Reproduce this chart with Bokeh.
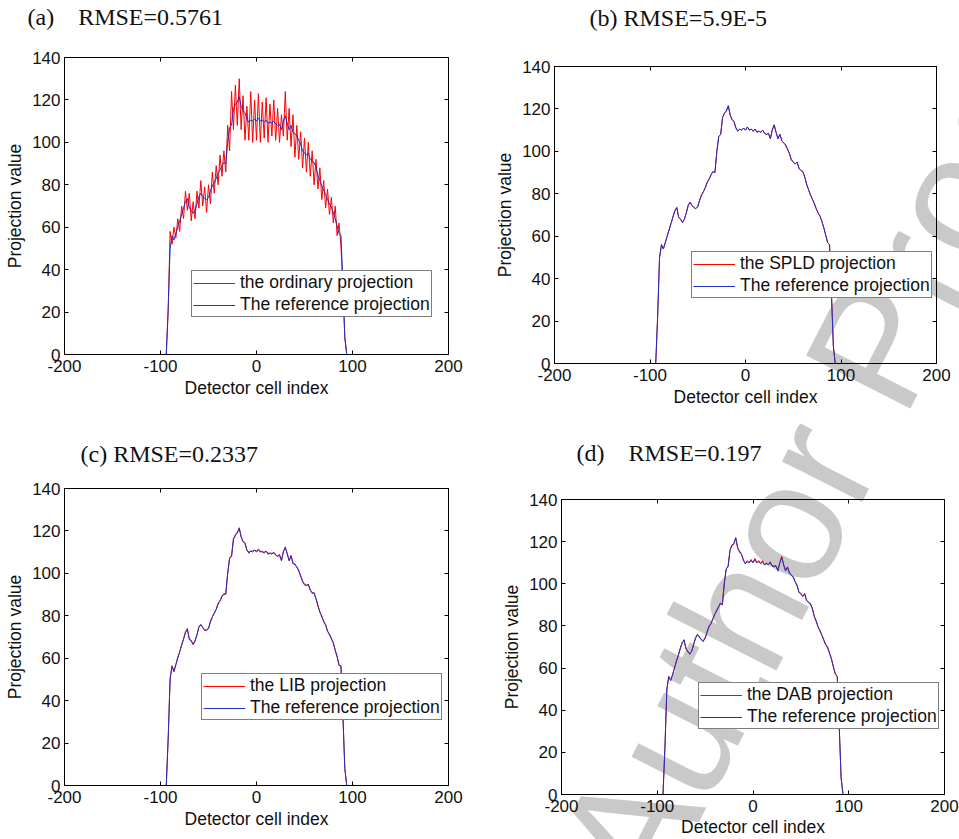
from bokeh.plotting import figure
from bokeh.models import FixedTicker, LinearAxis, Range1d, Legend, LegendItem, Label, Plot
from bokeh.core.properties import value
from bokeh.layouts import row, column
from bokeh.embed import file_html
from bokeh.resources import INLINE

# Detector cells sampled every 2 cells across the object; the flat zero
# tails run out to the edge cells at +/-183.
cell_index = list(range(-94, 95, 2))
edge_cells = [-183, 183]

reference_proj = [
    0, 22, 50, 56, 54, 57, 60, 63, 66, 69,
    72, 73.5, 69, 68, 66.5, 68, 71, 74.5, 76, 74.5,
    73.5, 73, 74, 77, 79.5, 81, 83, 85.5, 87, 89,
    90.5, 90, 100, 107, 108, 116, 118, 119, 121.5, 117,
    115, 114, 111, 109.5, 110.5, 110, 111, 110, 111.5, 110,
    110.5, 109.5, 110.5, 109, 109.5, 109, 110, 108.5, 108, 108.5,
    106, 110, 112.5, 109, 106, 108, 105, 104, 103, 101,
    99, 96, 95, 94, 95, 92, 91, 90.5, 88, 84.5,
    82, 79.5, 77.5, 75.5, 73, 71, 69.5, 67, 64, 60.5,
    57, 56, 33, 8, 0,
]

ordinary_proj = [
    0, 20, 58, 52, 60, 55, 64, 58, 70, 64,
    77, 68, 76, 63, 72, 64, 77, 69, 82, 70,
    79, 67, 80, 71, 86, 76, 89, 80, 94, 84,
    96, 86, 108, 96, 124, 106, 127, 108, 130, 106,
    122, 101, 117, 101, 124, 100, 120, 101, 123, 100,
    119, 102, 121, 100, 118, 103, 120, 101, 116, 100,
    113, 103, 124, 101, 116, 98, 113, 93, 108, 92,
    105, 88, 102, 86, 100, 84, 96, 80, 92, 78,
    88, 73, 82, 69, 78, 66, 74, 62, 70, 56,
    62, 51, 32, 8, 0,
]

# SPLD agrees with the reference to within 1e-4
spld_proj = [
    0, 22, 50, 56, 54, 57, 60, 63, 66, 69,
    72, 73.5, 69, 68, 66.5, 68, 71, 74.5, 76, 74.5,
    73.5, 73, 74, 77, 79.5, 81, 83, 85.5, 87, 89,
    90.5, 90, 100, 107, 108, 116, 118, 119, 121.5, 117,
    115, 114, 111, 109.5, 110.5, 110, 111, 110, 111.5, 110,
    110.5, 109.5, 110.5, 109, 109.5, 109, 110, 108.5, 108, 108.5,
    106, 110, 112.5, 109, 106, 108, 105, 104, 103, 101,
    99, 96, 95, 94, 95, 92, 91, 90.5, 88, 84.5,
    82, 79.5, 77.5, 75.5, 73, 71, 69.5, 67, 64, 60.5,
    57, 56, 33, 8, 0,
]

lib_proj = [
    0, 22, 50.5, 56.5, 53.5, 57, 60.5, 63, 66.5, 69,
    72.5, 74, 69, 68.5, 66.5, 68.5, 71, 75, 75.5, 74.5,
    73, 73.5, 74, 77.5, 79.5, 81.5, 83, 86, 87, 89.5,
    90, 90.5, 100, 107.5, 108, 116.5, 118, 119.5, 121, 117.5,
    115, 114.5, 111, 110, 110.5, 110.5, 111, 110.5, 111, 110.5,
    110, 110, 110.5, 109.5, 109.5, 109.5, 109.5, 109, 108, 109,
    106, 110.5, 112, 109.5, 106, 108.5, 104.5, 104.5, 103, 101.5,
    98.5, 96.5, 94.5, 94.5, 94.5, 92.5, 90.5, 91, 88, 85,
    81.5, 80, 77, 76, 72.5, 71.5, 69, 67.5, 63.5, 61,
    56.5, 56.5, 33, 8, 0,
]

dab_proj = [
    0, 22, 49.5, 56, 54.5, 56.5, 60, 63.5, 66, 69.5,
    72, 73, 69.5, 67.5, 67, 68, 71.5, 74, 76, 75,
    73.5, 72.5, 74.5, 77, 80, 81, 83.5, 85.5, 87.5, 89,
    91, 90, 100.5, 107, 108.5, 116, 118.5, 119, 122, 117,
    115.5, 114, 111.5, 109.5, 111, 110, 111.5, 110, 112, 110,
    111, 109.5, 111, 109, 110, 109, 110.5, 108.5, 108.5, 108.5,
    106.5, 110, 113, 109, 106.5, 108, 105.5, 104, 103.5, 101,
    99.5, 96, 95.5, 94, 95.5, 92, 91.5, 90.5, 88.5, 84.5,
    82.5, 79.5, 78, 75.5, 73.5, 71, 70, 67, 64.5, 60.5,
    57.5, 56, 33, 8, 0,
]

x_ticks = [-200, -100, 0, 100, 200]
x_tick_labels = ["-200", "-100", "0", "100", "200"]
y_ticks = [0, 20, 40, 60, 80, 100, 120, 140]

panel_titles = ["(a)\u00a0\u00a0\u00a0\u00a0RMSE=0.5761", "(b) RMSE=5.9E-5",
                "(c) RMSE=0.2337", "(d)\u00a0\u00a0\u00a0\u00a0RMSE=0.197"]
method_labels = ["the ordinary projection", "the SPLD projection",
                 "the LIB projection", "the DAB projection"]
method_series = [ordinary_proj, spld_proj, lib_proj, dab_proj]
reference_label = "The reference projection"
x_label = "Detector cell index"
y_label = "Projection value"

SANS = "Liberation Sans"
SERIF = "Liberation Serif"
RED = "#ff0000"
BLUE = "#1f2fc8"
INK = "#111111"
WM_TEXT = "Author Proof"
WM_ANGLE = 63
WM_SIZE = "170px"
# baseline start of the watermark in page pixels
WM_X, WM_Y = 602, 882

plot_opts = {}
if "frame_align" in Plot.properties():
    plot_opts["frame_align"] = False


def full_x():
    return [edge_cells[0]] + cell_index + [edge_cells[1]]


def full_y(vals):
    return [0] + list(vals) + [0]


def hidden_axis(ticks):
    return LinearAxis(ticker=FixedTicker(ticks=ticks),
                      major_label_overrides={t: "" for t in ticks},
                      major_label_text_font_size="0px", major_label_standoff=0,
                      major_tick_in=4, major_tick_out=0,
                      minor_tick_line_color=None, axis_line_color="black",
                      major_tick_line_color="black")


def make_panel(i, origin, w, h, frame, title_pos, legend_loc, xlabel_gap=3,
               watermark=False):
    left, right, top, bottom = frame
    ox, oy = origin
    p = figure(width=w, height=h, output_backend="svg", toolbar_location=None,
               x_range=Range1d(-200, 200), y_range=Range1d(0, 140),
               min_border_left=left, min_border_right=w - right,
               min_border_top=top, min_border_bottom=h - bottom, **plot_opts)
    p.grid.visible = False
    p.outline_line_color = "black"
    p.outline_line_width = 1
    p.background_fill_color = "white"
    p.border_fill_color = "white"

    xa = p.xaxis[0]
    xa.ticker = FixedTicker(ticks=x_ticks)
    xa.major_label_overrides = dict(zip(x_ticks, x_tick_labels))
    ya = p.yaxis[0]
    ya.ticker = FixedTicker(ticks=y_ticks)
    for ax in (xa, ya):
        ax.axis_line_color = "black"
        ax.major_tick_line_color = "black"
        ax.major_tick_in = 4
        ax.major_tick_out = 0
        ax.minor_tick_line_color = None
        ax.major_label_text_font = SANS
        ax.major_label_text_font_size = "17px"
        ax.major_label_text_color = INK
        ax.axis_label_text_font = SANS
        ax.axis_label_text_font_size = "17.5px"
        ax.axis_label_text_font_style = "normal"
        ax.axis_label_text_color = INK
    xa.axis_label = x_label
    xa.major_label_standoff = 5
    xa.axis_label_standoff = xlabel_gap
    ya.axis_label = y_label
    ya.major_label_standoff = 4
    ya.axis_label_standoff = 4

    p.add_layout(hidden_axis(y_ticks), "right")
    p.add_layout(hidden_axis(x_ticks), "above")

    # panel heading sits in the band above the frame
    tx, ty = title_pos
    p.add_layout(Label(x=tx - left, y=top - ty + 10, x_units="screen", y_units="screen",
                       text=panel_titles[i], text_font=SERIF, text_font_size="24px",
                       text_color=INK, text_align="left", text_baseline="alphabetic"),
                 "above")

    if watermark:
        # anchored at the frame centre, shifted in pixels to its page position
        cx = ox + (left + right) / 2
        cy = oy + (top + bottom) / 2
        p.text(x=[0], y=[70], text=[WM_TEXT], angle=WM_ANGLE, angle_units="deg",
               x_offset=WM_X - cx, y_offset=WM_Y - cy,
               text_font=value(SANS), text_font_size=value(WM_SIZE),
               text_color="#c9c9c9", text_align="left", text_baseline="alphabetic",
               level="guide")

    xs = full_x()
    r1 = p.line(xs, full_y(method_series[i]), line_color=RED, line_width=1, level="guide")
    r2 = p.line(xs, full_y(reference_proj), line_color=BLUE, line_width=1, level="guide")

    legend = Legend(items=[LegendItem(label=method_labels[i], renderers=[r1]),
                           LegendItem(label=reference_label, renderers=[r2])],
                    location=legend_loc, padding=1, spacing=1, margin=0,
                    glyph_width=42, glyph_height=20, label_height=20,
                    label_standoff=5, label_text_font=SANS,
                    label_text_font_size="17.5px", label_text_color=INK,
                    border_line_color="black", border_line_width=1,
                    background_fill_color="white", background_fill_alpha=1)
    p.add_layout(legend)
    return p


pa = make_panel(0, (0, 0), 480, 420, (64, 448, 57, 354), (27, 26.7), (127, 37))
pb = make_panel(1, (480, 0), 479, 420, (74, 456, 66, 363), (109, 27.3), (137, 65),
                watermark=True)
pc = make_panel(2, (0, 420), 480, 419, (64, 448, 68, 365), (80, 43.3), (137, 65))
pd = make_panel(3, (480, 420), 479, 419, (81, 464, 79, 376), (96, 42.3), (137, 65),
                xlabel_gap=2, watermark=True)

layout = column(row(pa, pb), row(pc, pd))

with open("out.html", "w") as f:
    f.write(file_html(layout, INLINE))
